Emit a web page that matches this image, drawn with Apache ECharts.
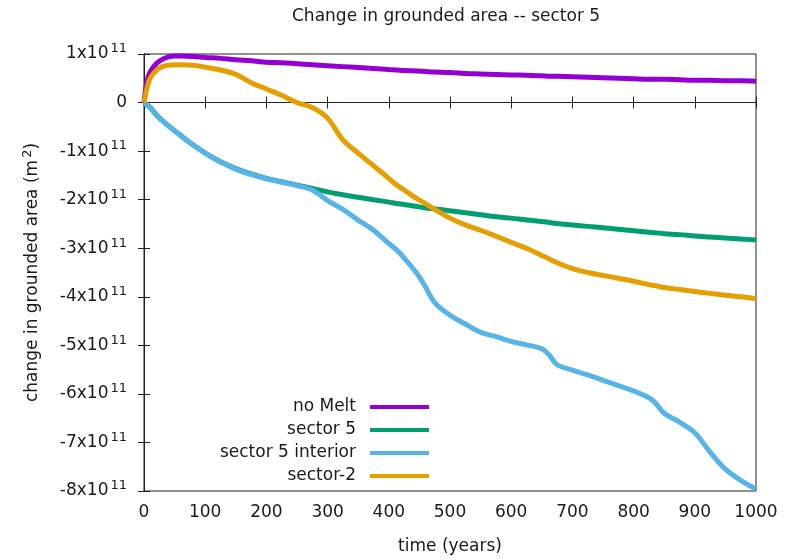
<!DOCTYPE html>
<html>
<head>
<meta charset="utf-8">
<script src="https://cdn.jsdelivr.net/npm/echarts@6/dist/echarts.min.js"></script>
<style>
html,body{margin:0;padding:0;background:#fff;}
#chart{width:795px;height:560px;}
</style>
</head>
<body>
<div id="chart"></div>
<script>
// values in units of 1x10^11 m^2
const years = [0,5,10,20,30,40,50,60,80,100,125,150,175,200,225,250,275,300,325,350,375,400,413,425,446,460,475,500,525,550,575,600,625,650,662,675,700,725,750,775,800,825,835,850,875,900,925,950,975,1000];
const noMelt = [0,0.45,0.63,0.8,0.89,0.94,0.96,0.96,0.95,0.93,0.91,0.88,0.86,0.83,0.82,0.8,0.78,0.76,0.74,0.72,0.7,0.68,0.67,0.66,0.65,0.64,0.63,0.62,0.6,0.59,0.58,0.57,0.56,0.55,0.54,0.54,0.53,0.52,0.51,0.5,0.49,0.48,0.48,0.48,0.47,0.46,0.46,0.45,0.45,0.44];
const sector5 = [0,-0.05,-0.1,-0.25,-0.37,-0.48,-0.58,-0.68,-0.87,-1.04,-1.22,-1.36,-1.47,-1.56,-1.63,-1.7,-1.77,-1.84,-1.9,-1.95,-2.0,-2.05,-2.08,-2.1,-2.14,-2.17,-2.19,-2.23,-2.27,-2.31,-2.35,-2.38,-2.42,-2.45,-2.47,-2.49,-2.52,-2.55,-2.58,-2.61,-2.64,-2.67,-2.68,-2.7,-2.72,-2.75,-2.77,-2.79,-2.81,-2.83];
const sector5Interior = [0,-0.05,-0.1,-0.25,-0.37,-0.48,-0.58,-0.68,-0.87,-1.04,-1.22,-1.37,-1.48,-1.57,-1.64,-1.71,-1.8,-2.02,-2.2,-2.42,-2.63,-2.9,-3.04,-3.2,-3.52,-3.8,-4.12,-4.38,-4.56,-4.73,-4.82,-4.92,-4.99,-5.07,-5.2,-5.4,-5.51,-5.61,-5.72,-5.83,-5.94,-6.08,-6.18,-6.4,-6.58,-6.8,-7.2,-7.55,-7.78,-7.96];
const sectorMinus2 = [0,0.3,0.5,0.66,0.74,0.77,0.78,0.78,0.77,0.73,0.67,0.58,0.41,0.28,0.15,0.0,-0.1,-0.32,-0.77,-1.04,-1.3,-1.56,-1.7,-1.8,-1.98,-2.08,-2.2,-2.38,-2.52,-2.63,-2.75,-2.88,-3.0,-3.15,-3.22,-3.3,-3.42,-3.5,-3.56,-3.62,-3.68,-3.75,-3.77,-3.81,-3.85,-3.89,-3.93,-3.97,-4.0,-4.04];
const seriesNames = ['no Melt','sector 5','sector 5 interior','sector-2'];
const seriesColors = ['#9400d3','#009e73','#56b4e9','#e69f00'];
const seriesValues = [noMelt, sector5, sector5Interior, sectorMinus2];
const xTicks = {min:0, max:1000, step:100};
const yTicks = {min:-8, max:1, step:1, exponent:11};

const FONT = 'DejaVu Sans';
const TXT = '#1a1a1a';
const chart = echarts.init(document.getElementById('chart'), null, {renderer:'canvas'});

const supStyle = {fontFamily:FONT, fontSize:13, color:TXT, padding:[0,0,10,2]};
const baseStyle = {fontFamily:FONT, fontSize:17, color:TXT};

function yLabel(v){
  if (Math.abs(v) < 1e-9) return '{b|0}';
  return '{b|' + Math.round(v) + 'x10}{s|' + yTicks.exponent + '}';
}

const series = seriesNames.map((n,i)=>({
  name:n, type:'line', showSymbol:false, symbol:'none',
  smooth:0.35,
  data: years.map((t,k)=>[t, seriesValues[i][k]]),
  lineStyle:{width:5, color:seriesColors[i]},
  itemStyle:{color:seriesColors[i]},
  z: 2+i, animation:false
}));

chart.setOption({
  animation:false,
  backgroundColor:'#fff',
  title:{
    text:'Change in grounded area -- sector 5',
    left:292, top:8, padding:0,
    textStyle:{fontFamily:FONT, fontSize:17, fontWeight:'normal', color:TXT}
  },
  legend:{
    orient:'vertical', align:'right', right:366, top:398, padding:0,
    itemWidth:59, itemHeight:4, itemGap:5, icon:'rect',
    data:seriesNames,
    textStyle:{fontFamily:FONT, fontSize:17, color:TXT, lineHeight:18, padding:[0,9,0,0]}
  },
  grid:{left:144, right:39, top:54, bottom:69, show:true, borderColor:'#222', borderWidth:1, backgroundColor:'transparent'},
  xAxis:[{
    type:'value', min:xTicks.min, max:xTicks.max, interval:xTicks.step,
    name:'time (years)', nameLocation:'middle', nameGap:47,
    nameTextStyle:{fontFamily:FONT, fontSize:17, color:TXT},
    axisLine:{show:true, lineStyle:{color:'#222', width:1}},
    axisTick:{show:true, inside:true, length:6, lineStyle:{color:'#222'}},
    axisLabel:{fontFamily:FONT, fontSize:17, color:TXT, margin:13, formatter:(v)=>String(v)},
    splitLine:{show:false}
  },{
    type:'value', position:'top', min:xTicks.min, max:xTicks.max, interval:xTicks.step,
    axisLine:{show:true, lineStyle:{color:'#222', width:1}},
    axisTick:{show:true, inside:true, length:6, lineStyle:{color:'#222'}},
    axisLabel:{show:false}, splitLine:{show:false}
  }],
  yAxis:[{
    type:'value', min:yTicks.min, max:yTicks.max, interval:yTicks.step,
    name:'change in grounded area (m{s|2})', nameLocation:'middle', nameGap:100,
    nameTextStyle:{fontFamily:FONT, fontSize:17, color:TXT, rich:{s:supStyle}},
    axisLine:{show:true, lineStyle:{color:'#222', width:1}},
    axisTick:{show:true, inside:true, length:6, lineStyle:{color:'#222'}},
    axisLabel:{margin:17, formatter:yLabel, rich:{b:baseStyle, s:supStyle}},
    splitLine:{show:false}
  },{
    type:'value', position:'right', min:yTicks.min, max:yTicks.max, interval:yTicks.step,
    axisLine:{show:true, lineStyle:{color:'#222', width:1}},
    axisTick:{show:true, inside:true, length:6, lineStyle:{color:'#222'}},
    axisLabel:{show:false}, splitLine:{show:false}
  }],
  series: series
});
</script>
</body>
</html>
